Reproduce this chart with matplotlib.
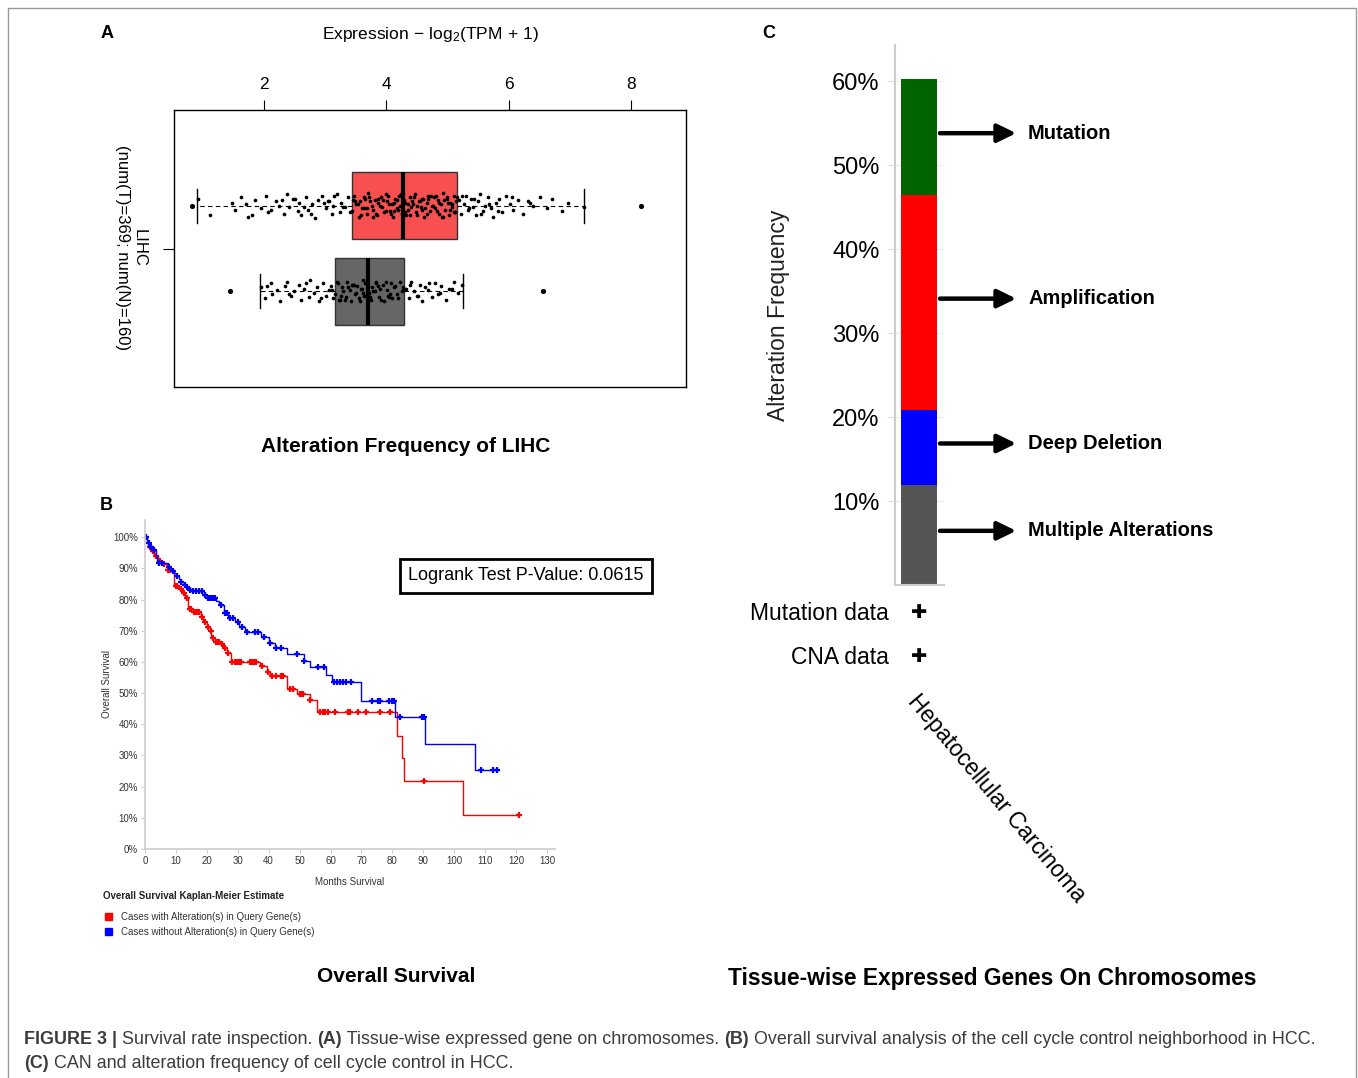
import numpy as np
import matplotlib.pyplot as plt
from matplotlib.patches import Rectangle
from matplotlib import font_manager

plt.rcParams['font.family'] = ['Liberation Sans', 'DejaVu Sans']
plt.rcParams['mathtext.fontset'] = 'custom'
plt.rcParams['mathtext.rm'] = 'Liberation Sans'
plt.rcParams['mathtext.it'] = 'Liberation Sans:italic'
plt.rcParams['mathtext.bf'] = 'Liberation Sans:bold'

# ---------------- data ----------------
# panel A: expression boxplots (log2(TPM+1))
tumor_stats = dict(med=4.28, q1=3.44, q3=5.15, whislo=0.91, whishi=7.24, fliers=[0.82, 8.17])
normal_stats = dict(med=3.70, q1=3.16, q3=4.29, whislo=1.93, whishi=5.25, fliers=[1.44, 6.57])
tumor_expr = [0.93, 1.12, 1.47, 1.52, 1.63, 1.71, 1.74, 1.86, 1.95, 2.03, 2.06, 2.19, 2.24, 2.33, 2.38,
              2.41, 2.47, 2.55, 2.57, 2.61, 2.68, 2.72, 2.79, 2.84, 2.88, 2.95, 3.01, 3.04, 3.11, 3.13,
              3.19, 3.24, 3.26, 3.33, 3.38, 3.44, 3.47, 3.51, 3.56, 3.57, 3.63, 3.66, 3.69, 3.70, 3.76,
              3.78, 3.81, 3.85, 3.87, 3.91, 3.93, 3.97, 4.00, 4.02, 4.06, 4.09, 4.11, 4.15, 4.18, 4.21,
              4.23, 4.26, 4.29, 4.30, 4.35, 4.38, 4.39, 4.44, 4.47, 4.48, 4.53, 4.56, 4.60, 4.62, 4.66,
              4.68, 4.71, 4.75, 4.78, 4.80, 4.84, 4.87, 4.90, 4.93, 4.96, 4.99, 5.02, 5.05, 5.08, 5.10,
              5.13, 3.49, 3.60, 3.72, 3.83, 3.95, 4.04, 4.13, 4.24, 4.33, 4.42, 4.51, 4.58, 4.69, 4.82,
              4.91, 5.01, 5.11, 5.16, 5.19, 5.22, 5.27, 5.30, 5.34, 5.38, 5.41, 5.46, 5.50, 5.53, 5.58,
              5.62, 5.66, 5.71, 5.74, 5.79, 5.85, 5.90, 5.96, 6.02, 6.08, 6.15, 6.23, 6.31, 6.40, 6.52,
              6.63, 6.71, 6.88, 6.97, 7.23,
              2.12, 2.51, 2.77, 2.99, 3.15, 3.29, 3.41, 3.46, 3.54, 3.59, 3.64, 3.68, 3.74, 3.79, 3.86,
              3.90, 3.99, 4.03, 4.08, 4.12, 4.17, 4.20, 4.27, 4.31, 4.36, 4.41, 4.45, 4.50, 4.55, 4.59,
              4.64, 4.67, 4.73, 4.77, 4.83, 4.86, 4.92, 4.95, 5.00, 5.04, 5.07, 5.12, 5.14, 5.24, 5.36,
              5.44, 5.55, 5.68, 5.82, 6.05, 6.35, 1.80, 2.30, 2.65, 3.07]
tumor_jit = [5, -7, 2, -3, 6, 1, -8, 4, -2, 7, -5, 3, 0, -6, 8, -1, 5, -4, 2, -7, 6, -3, 1, -9, 4,
             7, -2, 3, -6, 0, 8, -5, 2, -1, 6, -4, 7, 1, -8, 3, -2, 5, -6, 9, 0, -3, 4, -7, 2, 6,
             -1, -5, 8, 3, -4, 1, -8, 5, -2, 7, 0, -6, 4, 2, -3, 6, -7, 1, 8, -5, 3, -1, 5, -8, 2,
             7, -4, 0, 6, -2, 4, -6, 1, 9, -3, 5, -7, 2, -1, 7, -5, 3, -2, 6, -6, 4, 1, -4, 8, -7,
             3, 0, -3, 5, 7, -8, 2, -5, 6, 4, -6, 1, 7, -3, 5, -1, -7, 3, 8, -4, 0, 6, -2, -8, 2,
             5, -5, 7, 1, -3, 4, -6, 3, 0, 6, -2, 5, -4, 2, -1,
             -3, 5, -6, 2, 7, -1, -5, 4, 1, -7, 6, -2, 3, -8, 5, 0, -4, 7, -6, 2, 4, -3, 8, -5, 1,
             -1, 6, -7, 3, 5, -2, -6, 7, 0, -4, 2, -8, 4, 6, -3, 1, -5, 3, 7, -2, 5, -6, 1, -4, 6,
             2, -7, 4, -1, 3]
normal_expr = [1.95, 2.02, 2.11, 2.14, 2.22, 2.27, 2.34, 2.38, 2.45, 2.49, 2.57, 2.61, 2.66, 2.73, 2.76,
               2.82, 2.87, 2.90, 2.97, 3.02, 3.06, 3.09, 3.13, 3.17, 3.21, 3.23, 3.28, 3.30, 3.34, 3.36,
               3.40, 3.42, 3.47, 3.49, 3.52, 3.56, 3.58, 3.62, 3.64, 3.68, 3.71, 3.75, 3.77, 3.81, 3.84,
               3.88, 3.90, 3.94, 3.97, 4.01, 4.03, 4.08, 4.10, 4.15, 4.18, 4.22, 4.25, 4.28, 3.25, 3.44,
               3.62, 3.83, 4.05, 4.32, 4.37, 4.41, 4.46, 4.50, 4.55, 4.59, 4.64, 4.68, 4.74, 4.79, 4.85,
               4.90, 4.97, 5.03, 5.11, 5.18, 5.24,
               2.05, 2.41, 2.69, 2.93, 3.11, 3.19, 3.26, 3.32, 3.38, 3.45, 3.51, 3.57, 3.60, 3.66, 3.73,
               3.79, 3.86, 3.92, 3.99, 4.06, 4.12, 4.20, 4.27, 4.39, 4.52, 4.70, 4.88, 5.07]
normal_jit = [3, -5, 6, -2, 1, -7, 4, 7, -3, 0, 5, -6, 2, -4, 8, -1, 3, -7, 6, -3, 1, 4, -5,
              -2, 6, -6, 3, 0, -4, 7, 1, -7, 5, -2, 4, -5, 2, 8, -3, 6, -1, -6, 3, 0, 7, -4, 2,
              5, -7, 1, -3, 6, -5, 4, -2, 7, 0, 3, -6, 5, -1, 6, -4, 2, -5, 7, 0, -3, 5, -7, 3,
              1, -4, 6, -2, 4, -6, 2, 7, -1, 5,
              4, -2, 6, -5, 1, 7, -3, -6, 3, 5, -1, -7, 2, 6, -4, 0, 4, -6, 7, -2, 3, -5, 1, 5,
              -3, 6, -1, 2]

# panel B: Kaplan-Meier steps (months, survival %)
alt_t = [0, 0.5, 1, 2, 3, 4.3, 5.5, 7, 9.5, 11, 12, 13, 14, 15.5, 18, 18.8, 20, 21, 21.5, 22.6,
         24.5, 25.3, 26.4, 27.8, 37.2, 39.5, 40.3, 45.8, 49, 53.3, 55.5, 81.5, 83.2, 83.7, 102.7]
alt_s = [100, 98.5, 97, 95.5, 94, 92.5, 91.5, 89.5, 84.2, 83.5, 82, 80.6, 77, 76, 74.5, 72.8, 71.2,
         70, 67.7, 66.5, 65.6, 64.6, 62.9, 60, 58.8, 56.8, 55.5, 51.2, 49.6, 47.8, 43.8, 36.3, 29.2,
         21.9, 10.9]
alt_end = 120.8
alt_cens = [1.5, 2.5, 3.5, 5, 6, 7.5, 8, 10, 10.5, 11.5, 12.5, 13.5, 14.5, 15, 16, 16.5, 17, 17.5,
            18.5, 19.5, 20.5, 21.2, 22, 23, 23.5, 24, 25, 26, 27, 28.2, 29, 29.5, 30, 30.5, 31, 34,
            34.5, 35, 35.5, 36, 38, 39.8, 41, 42.5, 44, 44.7, 47, 48, 50, 50.5, 51, 53.5, 56.5, 57.5,
            58.1, 59.2, 61.3, 65.6, 66.2, 68.9, 71.6, 75.9, 79.1, 90.1, 120.8]
noalt_t = [0, 0.5, 1, 1.5, 2.5, 3.5, 4, 7.5, 8.5, 9.5, 10, 11, 11.5, 12.5, 13, 14, 15, 19, 20, 23,
           24, 25.5, 27, 29, 30.5, 32.5, 37.5, 40, 42, 46, 51.5, 53.5, 58.5, 60.5, 69.8, 80.8, 90.5,
           106.8]
noalt_s = [100, 99, 98, 97, 96, 94, 91.7, 90.4, 89.3, 88.6, 87.5, 86.5, 85.5, 84.5, 84, 83, 82.6,
           81.5, 80.5, 79.5, 78.1, 75.8, 74.2, 72.8, 71.2, 69.6, 68, 66.2, 64.4, 62.4, 60.3, 58.3,
           55.8, 53.4, 47.5, 42.2, 33.8, 25.3]
noalt_end = 114.5
noalt_cens = [0.3, 1.2, 2, 3, 4.5, 5.5, 7.8, 9, 10.5, 11.8, 12.8, 13.5, 14.5, 15.5, 16.5, 17.5, 18.5,
              19.5, 20.5, 21, 21.5, 22, 22.5, 24.5, 25.8, 26.5, 27.5, 28.5, 30, 31.5, 33, 35.5, 36.5,
              38.5, 40.5, 42.5, 44, 49, 51.5, 56, 58, 61, 62, 63, 64, 65, 66.5, 73.5, 75.5, 76, 79,
              80, 80.5, 82.5, 89.7, 90.2, 108.7, 112.7, 113.8]
logrank_p = 0.0615

# panel C: alteration frequency (%), bottom to top
alt_types = ['Multiple Alterations', 'Deep Deletion', 'Amplification', 'Mutation']
alt_freq = [11.9, 8.9, 25.6, 13.8]
alt_colors = ['#555555', '#0000ff', '#ff0000', '#006400']

# ---------------- figure ----------------
W, H = 1358, 1078
fig = plt.figure(figsize=(W / 100, H / 100), dpi=100)
bg = fig.add_axes([0, 0, 1, 1])
bg.set_xlim(0, W)
bg.set_ylim(H, 0)
bg.axis('off')


def px_axes(x0, y0, x1, y1):
    a = fig.add_axes([x0 / W, 1 - y1 / H, (x1 - x0) / W, (y1 - y0) / H])
    a.set_facecolor('none')
    return a


# outer frame
bg.plot([8, 8, 1356, 1356], [H, 8, 8, H], color='#999999', lw=1)

# ---------- panel A ----------
axA = px_axes(174, 110, 686, 387)
axA.set_xlim(0.53, 8.9)
axA.set_ylim(-1, 1)
res = axA.bxp([normal_stats, tumor_stats], positions=[-0.31, 0.31], widths=0.49,
              orientation='horizontal', patch_artist=True,
              boxprops=dict(edgecolor='#333333', lw=1),
              medianprops=dict(color='k', lw=3, zorder=4),
              whiskerprops=dict(color='k', lw=0.8, ls=(0, (4, 3))),
              capprops=dict(color='k', lw=1),
              flierprops=dict(marker='o', ms=2.7, mfc='k', mec='k'))
res['boxes'][0].set_facecolor('#666666')
res['boxes'][1].set_facecolor('#f85050')
tx, ty = zip(*[(x, 0.31 + j / 100) for x, j in zip(tumor_expr, tumor_jit)])
nx, ny = zip(*[(x, -0.31 + j / 100) for x, j in zip(normal_expr, normal_jit)])
axA.scatter(tx, ty, s=7, c='k', lw=0, zorder=3)
axA.scatter(nx, ny, s=7, c='k', lw=0, zorder=3)
axA.xaxis.tick_top()
axA.set_xticks([2, 4, 6, 8])
axA.tick_params(axis='x', length=7, pad=6, labelsize=12.5)
axA.set_yticks([0])
axA.set_yticklabels([''])
axA.tick_params(axis='y', length=8)
for s in axA.spines.values():
    s.set_linewidth(1)

bg.text(107, 34, 'A', fontsize=13, fontweight='bold', ha='center', va='center')
bg.text(430, 34, r'Expression$\,-\,$log$_2$(TPM$\,+\,$1)', fontsize=12.5, ha='center', va='center')
bg.text(131, 248, 'LIHC\n(num(T)=369; num(N)=160)', rotation=-90, fontsize=12, ha='center',
        va='center', multialignment='center', linespacing=1.15)
bg.text(406, 446, 'Alteration Frequency of LIHC', fontsize=15, fontweight='bold',
        ha='center', va='center')

# ---------- panel B ----------
axB = px_axes(145, 520, 555, 849)
axB.set_xlim(0, 132.6)
axB.set_ylim(0, 105.5)


def km(ax, t, s, t_end, cens, color):
    ax.step(list(t) + [t_end], list(s) + [s[-1]], where='post', color=color, lw=1)
    idx = np.searchsorted(t, cens, side='right') - 1
    ax.plot(cens, np.asarray(s)[idx], ls='none', marker='+', color=color, ms=5, mew=1.6)


km(axB, alt_t, alt_s, alt_end, alt_cens, '#ff0000')
km(axB, noalt_t, noalt_s, noalt_end, noalt_cens, '#0000ff')
axB.set_xticks(np.arange(0, 131, 10))
axB.set_yticks(np.arange(0, 101, 10))
axB.set_yticklabels([f'{v}%' for v in range(0, 101, 10)])
axB.tick_params(labelsize=7, length=3, color='#cccccc', labelcolor='#333333', pad=2)
for side in ['top', 'right']:
    axB.spines[side].set_visible(False)
for side in ['left', 'bottom']:
    axB.spines[side].set_color('#cccccc')
    axB.spines[side].set_linewidth(1.2)
axB.set_xlabel('Months Survival', fontsize=7, color='#333333', labelpad=8)
axB.set_ylabel('Overall Survival', fontsize=7, color='#333333', labelpad=1)

bg.text(106, 506, 'B', fontsize=13, fontweight='bold', ha='center', va='center')
bg.text(526, 576, f'Logrank Test P-Value: {logrank_p}', fontsize=13, ha='center', va='center',
        bbox=dict(boxstyle='square,pad=0.48', fc='white', ec='black', lw=2))
bg.text(103, 896, 'Overall Survival Kaplan-Meier Estimate', fontsize=7, fontweight='bold',
        ha='left', va='center', color='#222222')
bg.add_patch(Rectangle((105, 913), 7, 7, color='#ff0000'))
bg.add_patch(Rectangle((105, 928), 7, 7, color='#0000ff'))
bg.text(121, 917, 'Cases with Alteration(s) in Query Gene(s)', fontsize=7, va='center', color='#333333')
bg.text(121, 932, 'Cases without Alteration(s) in Query Gene(s)', fontsize=7, va='center', color='#333333')
bg.text(396, 977, 'Overall Survival', fontsize=15, fontweight='bold', ha='center', va='center')

# ---------- panel C ----------
axC = px_axes(895, 45, 944, 585)
axC.set_xlim(-0.167, 1.194)
axC.set_ylim(0, 64.3)
bottoms = np.concatenate([[0], np.cumsum(alt_freq)[:-1]])
axC.bar([0.5] * len(alt_freq), alt_freq, bottom=bottoms, width=1.0, color=alt_colors, zorder=2)
axC.set_xticks([])
axC.set_yticks([10, 20, 30, 40, 50, 60])
axC.set_yticklabels([f'{v}%' for v in [10, 20, 30, 40, 50, 60]])
axC.tick_params(axis='y', labelsize=17, length=6, color='#dddddd', pad=5)
axC.yaxis.grid(True, color='#eeeeee', lw=1, zorder=0)
axC.set_axisbelow(True)
for side in ['top', 'right']:
    axC.spines[side].set_visible(False)
for side in ['left', 'bottom']:
    axC.spines[side].set_color('#cccccc')
    axC.spines[side].set_linewidth(1.5)
for name, b, f in zip(alt_types, bottoms, alt_freq):
    yc = b + f / 2 + 0.5
    axC.annotate('', xy=(3.2, yc), xytext=(1.083, yc), annotation_clip=False,
                 arrowprops=dict(arrowstyle='-|>,head_length=0.45,head_width=0.22',
                                 lw=3.2, color='k', mutation_scale=25, shrinkA=0, shrinkB=0))
    axC.text(3.53, yc, name, fontsize=14.5, fontweight='bold', ha='left', va='center',
             clip_on=False)

bg.text(769, 34, 'C', fontsize=13, fontweight='bold', ha='center', va='center')
bg.text(778, 315, 'Alteration Frequency', rotation=90, fontsize=16.5, ha='center', va='center',
        color='#222222')
bg.text(889, 613, 'Mutation data', fontsize=16.5, ha='right', va='center')
bg.text(889, 658, 'CNA data', fontsize=16.5, ha='right', va='center')
bg.text(919, 612, '\u271a', fontsize=14, ha='center', va='center', family='DejaVu Sans')
bg.text(919, 657, '\u271a', fontsize=14, ha='center', va='center', family='DejaVu Sans')
bg.text(903, 690, 'Hepatocellular Carcinoma', rotation=-50, fontsize=16.5, ha='left', va='top')
bg.text(992, 979, 'Tissue-wise Expressed Genes On Chromosomes', fontsize=16.4, fontweight='bold',
        ha='center', va='center')

# ---------- caption ----------
names = {f.name for f in font_manager.fontManager.ttflist}
cap_font = 'Liberation Sans Narrow' if 'Liberation Sans Narrow' in names else 'Liberation Sans'
cap_size = 14.3 if cap_font == 'Liberation Sans Narrow' else 12.9
cap_color = '#3c3c3c'


def caption_line(x, y, parts):
    t = bg.text(x, y, parts[0][0], fontweight=parts[0][1], family=cap_font, fontsize=cap_size,
                color=cap_color, ha='left', va='center')
    for s, w in parts[1:]:
        t = bg.annotate(s, xy=(1, 0), xycoords=t, ha='left', va='bottom', fontweight=w,
                        family=cap_font, fontsize=cap_size, color=cap_color)


caption_line(24, 1040, [('FIGURE 3 |', 'bold'), (' Survival rate inspection. ', 'normal'),
                        ('(A)', 'bold'), (' Tissue-wise expressed gene on chromosomes. ', 'normal'),
                        ('(B)', 'bold'),
                        (' Overall survival analysis of the cell cycle control neighborhood in HCC.',
                         'normal')])
caption_line(24, 1064, [('(C)', 'bold'),
                        (' CAN and alteration frequency of cell cycle control in HCC.', 'normal')])

fig.savefig('out.png', dpi=100)
